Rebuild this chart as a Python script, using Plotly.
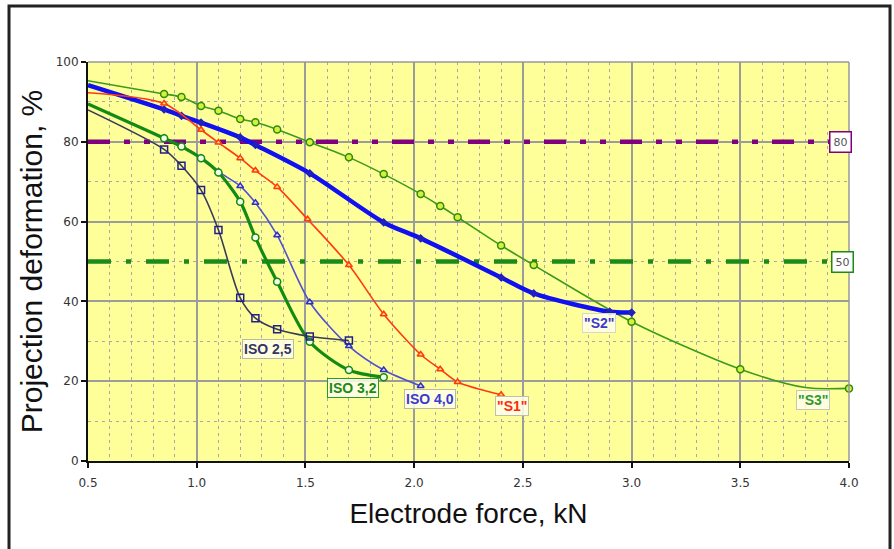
import plotly.graph_objects as go

# ---------------- data ----------------
iso25_force = [0.5, 0.85, 0.93, 1.02, 1.10, 1.20, 1.27, 1.37, 1.52, 1.70]
iso25_deform = [88.0, 78.1, 74.0, 67.9, 57.9, 40.9, 35.8, 33.0, 31.2, 30.2]

iso32_force = [0.5, 0.85, 0.93, 1.02, 1.10, 1.20, 1.27, 1.37, 1.52, 1.70, 1.86]
iso32_deform = [89.5, 80.9, 78.8, 75.9, 72.3, 65.0, 56.0, 44.9, 29.9, 22.8, 21.0]

iso40_force = [0.5, 0.85, 0.93, 1.02, 1.10, 1.20, 1.27, 1.37, 1.52, 1.70, 1.86, 2.03]
iso40_deform = [89.5, 81.0, 79.0, 76.0, 72.5, 68.9, 64.7, 56.6, 39.8, 28.8, 22.8, 18.8]

s1_force = [0.5, 0.85, 1.02, 1.10, 1.20, 1.27, 1.37, 1.51, 1.70, 1.86, 2.03, 2.12, 2.20, 2.40]
s1_deform = [92.3, 89.6, 83.0, 79.8, 75.9, 72.8, 68.7, 60.6, 49.1, 36.8, 26.7, 23.0, 19.8, 16.6]

s2_force = [0.5, 0.85, 0.93, 1.02, 1.20, 1.27, 1.52, 1.86, 2.03, 2.40, 2.55, 2.90, 3.00]
s2_deform = [94.2, 88.1, 86.5, 84.8, 81.1, 79.2, 72.1, 59.8, 55.8, 46.0, 42.0, 37.4, 37.2]

s3_force = [0.5, 0.85, 0.93, 1.02, 1.10, 1.20, 1.27, 1.37, 1.52, 1.70, 1.86, 2.03, 2.12,
            2.20, 2.40, 2.55, 3.00, 3.50, 3.80, 4.00]
s3_deform = [95.3, 92.0, 91.2, 89.0, 87.8, 85.7, 84.9, 83.1, 79.9, 76.1, 71.9, 66.9, 63.9,
             61.1, 54.0, 49.1, 34.9, 23.0, 18.4, 18.2]

limit_force = [0.5, 4.0]
limit_upper = 80
limit_lower = 50

x_ticks = [0.5, 1.0, 1.5, 2.0, 2.5, 3.0, 3.5, 4.0]
y_ticks = [0, 20, 40, 60, 80, 100]

# ---------------- figure ----------------
fig = go.Figure()

# reference limit lines
fig.add_trace(go.Scatter(x=limit_force, y=[limit_upper] * 2, mode="lines",
                         line=dict(color="#800080", width=4.5,
                                   dash="22px,14px,6px,14px,6px,14px"),
                         hoverinfo="skip", showlegend=False))
fig.add_trace(go.Scatter(x=limit_force, y=[limit_lower] * 2, mode="lines",
                         line=dict(color="#1a8a1a", width=4.5,
                                   dash="23px,15px,5px,15px"),
                         hoverinfo="skip", showlegend=False))


def add_series(xs, ys, color, width, symbol, msize, mfill, mline, skip=(0,)):
    fig.add_trace(go.Scatter(x=xs, y=ys, mode="lines",
                             line=dict(color=color, width=width, shape="spline",
                                       smoothing=0.8),
                             hoverinfo="skip", showlegend=False))
    idx = [i for i in range(len(xs)) if i not in skip]
    fig.add_trace(go.Scatter(x=[xs[i] for i in idx], y=[ys[i] for i in idx],
                             mode="markers", cliponaxis=False,
                             marker=dict(symbol=symbol, size=msize, color=mfill,
                                         line=dict(color=mline, width=1.5)),
                             showlegend=False))


add_series(s3_force, s3_deform, "#3c9a1c", 1.6, "circle", 7, "#d4f03c", "#2f8a10",
           skip=(0, len(s3_force) - 2))
add_series(s2_force, s2_deform, "#1010f0", 4.5, "diamond", 5, "#2020c0", "#2020c0")
add_series(s1_force, s1_deform, "#ff3a10", 1.6, "triangle-up", 6, "#ffe060", "#ff3a10")
add_series(iso40_force, iso40_deform, "#5050d0", 1.6, "triangle-up", 6, "#e0e0ff", "#3030c0")
add_series(iso32_force, iso32_deform, "#138a13", 3.2, "circle", 7, "#f4ffe8", "#138a13")
add_series(iso25_force, iso25_deform, "#3a3a5c", 1.6, "square-open", 7, "#20208a", "#20208a")

grid_major = "#9c9c9c"
grid_minor = "#a8a8a8"

fig.update_layout(
    width=894, height=549,
    margin=dict(l=88, r=45, t=62, b=88),
    paper_bgcolor="white",
    plot_bgcolor="#FFFF99",
    showlegend=False,
    font=dict(family="Liberation Sans, Arial, sans-serif", color="#222"),
    xaxis=dict(
        range=[0.5, 4.0], tickvals=x_ticks, ticktext=[f"{v:.1f}" for v in x_ticks],
        showgrid=True, gridcolor=grid_major, gridwidth=1.5,
        minor=dict(dtick=0.1, tick0=0.5, showgrid=True, gridcolor=grid_minor,
                   griddash="3px,4px", gridwidth=1.3),
        showline=True, linecolor="#111", linewidth=2, zeroline=False,
        ticks="outside", ticklen=5, tickcolor="#111", tickwidth=1.5,
        ticklabelstandoff=5,
        tickfont=dict(size=12, color="#333", family="DejaVu Sans"),
        title=dict(text="Electrode force, kN", standoff=14,
                   font=dict(size=28, color="#111", family="Liberation Sans")),
        automargin=False,
    ),
    yaxis=dict(
        range=[0, 100], tickvals=y_ticks,
        showgrid=True, gridcolor=grid_major, gridwidth=1.5,
        minor=dict(dtick=10, tick0=0, showgrid=True, gridcolor=grid_minor,
                   griddash="3px,4px", gridwidth=1.3),
        showline=True, linecolor="#111", linewidth=2, zeroline=False,
        ticks="outside", ticklen=5, tickcolor="#111", tickwidth=1.5,
        tickfont=dict(size=12, color="#333", family="DejaVu Sans"),
        title=dict(text="Projection deformation, %", standoff=4,
                   font=dict(size=30, color="#111", family="Liberation Sans")),
        automargin=False,
    ),
    shapes=[
        dict(type="line", xref="paper", yref="paper", x0=0, x1=1, y0=1, y1=1,
             line=dict(color="#999", width=1.5)),
        dict(type="line", xref="paper", yref="paper", x0=1, x1=1, y0=0, y1=1,
             line=dict(color="#999", width=1.5)),
        dict(type="rect", xref="paper", yref="paper", x0=-0.1038, x1=1.0539,
             y0=-0.35, y1=1.1404, line=dict(color="#222", width=3)),
    ],
)

label_font = "Liberation Sans, Arial, sans-serif"
labels = [
    ("ISO 2,5", 1.328, 28.1, "#333366", "#b8b8a8"),
    ("ISO 3,2", 1.719, 18.4, "#1a8a1a", "#2a9a2a"),
    ("ISO 4,0", 2.073, 15.5, "#3a3ad0", "#b8b8a8"),
    ('"S1"', 2.45, 13.9, "#ff2a10", "#c0c0b0"),
    ('"S2"', 2.85, 34.5, "#3a3ad0", "#d8d8c8"),
    ('"S3"', 3.835, 15.3, "#2f9a2f", "#c8c8b0"),
]
for text, lx, ly, col, bcol in labels:
    fig.add_annotation(x=lx, y=ly, text=f"<b>{text}</b>", showarrow=False,
                       font=dict(size=14, color=col, family=label_font),
                       bgcolor="rgba(255,255,235,0.85)", bordercolor=bcol,
                       borderwidth=1, borderpad=1)

fig.add_annotation(x=3.96, y=limit_upper, text=str(limit_upper), showarrow=False,
                   font=dict(size=11, color="#555", family="DejaVu Sans"),
                   bgcolor="white", bordercolor="#800080", borderwidth=1.5, borderpad=3)
fig.add_annotation(x=3.97, y=limit_lower, text=str(limit_lower), showarrow=False,
                   font=dict(size=11, color="#555", family="DejaVu Sans"),
                   bgcolor="white", bordercolor="#1a8a1a", borderwidth=1.5, borderpad=3)

fig.write_html("out.html",
               config={"displayModeBar": False},
               post_script="document.body.style.margin='0';"
                           "document.body.style.overflow='hidden';")
